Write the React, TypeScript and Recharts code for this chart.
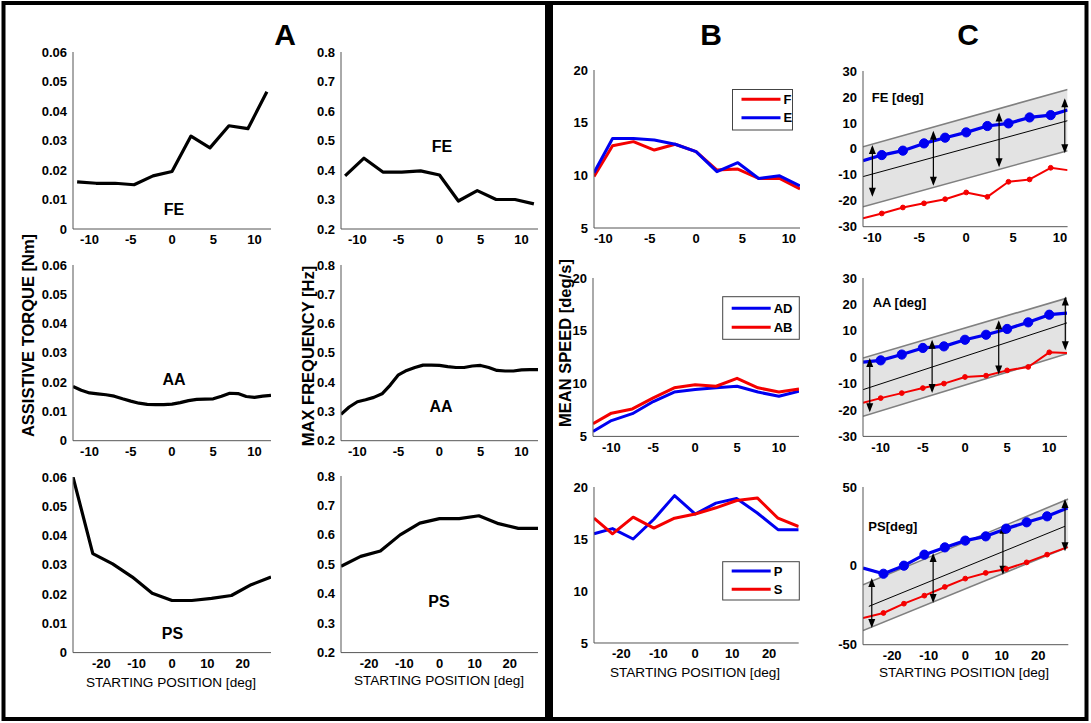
import React from 'react';
import { ComposedChart, Line, Area, XAxis, YAxis, ReferenceLine } from 'recharts';

const FONT = '"Liberation Sans", Arial, Helvetica, sans-serif';
const RED = '#f40000';
const BLUE = '#0000f0';

// ---------- Panel A ----------
const aFeX = [-11.5, -9.2, -6.9, -4.6, -2.3, 0, 2.3, 4.6, 6.9, 9.2, 11.5];
const aFeTorque = [0.016, 0.0155, 0.0155, 0.015, 0.018, 0.0195, 0.0315, 0.0275, 0.035, 0.034, 0.0465];
const aFeFreq = [0.38, 0.44, 0.393, 0.393, 0.397, 0.383, 0.295, 0.33, 0.3, 0.3, 0.285];

const aAaX = [-12, -11, -10, -9, -8, -7, -6, -5, -4, -3, -2, -1, 0, 1, 2, 3, 4, 5, 6, 7, 8, 9, 10, 11, 12];
const aAaTorque = [0.0185, 0.0172, 0.0163, 0.016, 0.0157, 0.0152, 0.0143, 0.0135, 0.0128, 0.0124, 0.0123, 0.0123, 0.0125, 0.013, 0.0137, 0.0141, 0.0142, 0.0143, 0.0152, 0.0162, 0.0161, 0.0151, 0.0148, 0.0152, 0.0155];
const aAaFreq = [0.29, 0.315, 0.333, 0.34, 0.348, 0.36, 0.39, 0.425, 0.44, 0.45, 0.458, 0.458, 0.457, 0.453, 0.45, 0.45, 0.455, 0.457, 0.45, 0.44, 0.438, 0.438, 0.442, 0.443, 0.443];

const aPsX = [-28, -22.4, -16.8, -11.2, -5.6, 0, 5.6, 11.2, 16.8, 22.4, 28];
const aPsTorque = [0.06, 0.0338, 0.0303, 0.0258, 0.0203, 0.0178, 0.0178, 0.0185, 0.0195, 0.0232, 0.0258];
const aPsFreq = [0.493, 0.527, 0.545, 0.6, 0.64, 0.655, 0.655, 0.665, 0.638, 0.622, 0.622];

// ---------- Panel B ----------
const bFeX = [-11, -9, -6.75, -4.5, -2.25, 0, 2.25, 4.5, 6.75, 9, 11.2];
const bF = [9.9, 12.8, 13.2, 12.4, 12.95, 12.25, 10.5, 10.6, 9.7, 9.7, 8.7];
const bE = [10.25, 13.5, 13.5, 13.35, 12.95, 12.25, 10.35, 11.2, 9.7, 9.95, 9.0];

const bAaX = [-12.2, -10, -7.5, -5, -2.5, 0, 2.5, 5, 7.5, 10, 12.4];
const bAD = [5.47, 6.5, 7.15, 8.3, 9.2, 9.45, 9.6, 9.75, 9.2, 8.8, 9.27];
const bAB = [6.2, 7.2, 7.6, 8.65, 9.6, 9.9, 9.75, 10.5, 9.6, 9.2, 9.5];

const bPsX = [-27.4, -22.4, -16.8, -11.2, -5.6, 0, 5.6, 11.2, 16.8, 22.4, 28];
const bP = [15.5, 16.0, 15.0, 16.9, 19.17, 17.4, 18.45, 18.9, 17.5, 15.9, 15.9];
const bS = [17.0, 15.5, 17.1, 16.05, 17.0, 17.4, 18.0, 18.7, 18.95, 17.0, 16.2];

// ---------- Panel C ----------
const cFeX = [-11, -9, -6.75, -4.5, -2.25, 0, 2.25, 4.5, 6.75, 9, 10.8];
const cFeBlue = [-4.6, -2.4, -0.7, 2.1, 4.3, 6.35, 8.8, 9.8, 12.1, 13.0, 15.0];
const cFeRed = [-26.8, -24.9, -22.6, -21, -19.4, -16.8, -18.5, -12.7, -11.8, -7.3, -8.2];
const cFeBandX = [-11, 10.8];
const cFeBandLo = [-22.3, -0.7];
const cFeBandMid = [-10.7, 10.85];
const cFeBandHi = [0.8, 22.9];
const cFeArrowX = [-10, -3.5, 3.5, 10.5];
const cFeArrowLo = [-18.5, -14.2, -7.1, -1.7];
const cFeArrowHi = [1.5, 7, 14, 19.5];

const cAaX = [-12.1, -10, -7.5, -5, -2.5, 0, 2.5, 5, 7.5, 10, 12.1];
const cAaBlue = [-1.9, -1.2, 1.0, 3.5, 4.1, 6.6, 8.5, 10.7, 13.2, 16.1, 16.7];
const cAaRed = [-17.3, -15.5, -13.6, -11.7, -10, -7.5, -7.0, -5.0, -3.7, 1.85, 1.6];
const cAaBandX = [-12.1, 12.1];
const cAaBandLo = [-22.4, 1.3];
const cAaBandMid = [-12.3, 13];
const cAaBandHi = [-0.3, 22.4];
const cAaArrowX = [-11.3, -3.9, 4, 11.9];
const cAaArrowLo = [-20.9, -13.6, -6.6, 2.6];
const cAaArrowHi = [-0.3, 6.6, 14, 23];

const cPsX = [-28, -22.4, -16.8, -11.2, -5.6, 0, 5.6, 11.2, 16.8, 22.4, 28];
const cPsBlue = [-1.4, -5.0, 0.1, 7.1, 11.7, 16.0, 18.7, 23.6, 27.6, 31.4, 36.7];
const cPsRed = [-33.1, -29.9, -24, -18.9, -13.4, -8.1, -4.5, -2.0, 2.2, 7.1, 11.9];
const cPsBandX = [-28, 28.2];
const cPsBandLo = [-41, 12];
const cPsBandHi = [-12, 42.4];
const cPsMidX = [-26.4, 27.3];
const cPsMidY = [-25.7, 25.1];
const cPsArrowX = [-25.6, -8.8, 10.3, 27.3];
const cPsArrowLo = [-39.4, -23.6, -5.6, 9.2];
const cPsArrowHi = [-7.7, 8.1, 26.1, 42.4];

// ---------- Ticks ----------
const xTicks12 = [-10, -5, 0, 5, 10];
const xTicks28 = [-20, -10, 0, 10, 20];
const torqueTicks = [0, 0.01, 0.02, 0.03, 0.04, 0.05, 0.06];
const freqTicks = [0.2, 0.3, 0.4, 0.5, 0.6, 0.7, 0.8];
const speedTicks = [5, 10, 15, 20];
const degTicks30 = [-30, -20, -10, 0, 10, 20, 30];
const degTicks50 = [-50, 0, 50];

const zip = (xs: number[], ys: number[]) => xs.map((x, i) => ({ x, y: ys[i] }));
const band = (xs: number[], lo: number[], hi: number[]) =>
  xs.map((x, i) => ({ x, range: [lo[i], hi[i]], lo: lo[i], hi: hi[i] }));

const tickStyle = { fill: '#000', fontSize: 13, fontWeight: 700, fontFamily: FONT };

const makeDot = (r: number, color: string, n: number) => (p: any) => {
  const k = `d-${p.index}`;
  if (p.index === 0 || p.index === n - 1 || p.cx == null) return <g key={k} />;
  return <circle key={k} cx={p.cx} cy={p.cy} r={r} fill={color} stroke={color} />;
};

const ArrowShape = (p: any) => {
  const x = p.x1;
  const yTop = Math.min(p.y1, p.y2);
  const yBot = Math.max(p.y1, p.y2);
  const hw = 3.5;
  const hl = 9;
  return (
    <g>
      <line x1={x} y1={yTop + 2} x2={x} y2={yBot - 2} stroke="#000" strokeWidth={1.2} />
      <polygon points={`${x},${yTop} ${x - hw},${yTop + hl} ${x + hw},${yTop + hl}`} fill="#000" />
      <polygon points={`${x},${yBot} ${x - hw},${yBot - hl} ${x + hw},${yBot - hl}`} fill="#000" />
    </g>
  );
};

type PlotProps = {
  box: number[];
  xDomain: number[];
  xTicks: number[];
  yDomain: number[];
  yTicks: number[];
  children?: React.ReactNode;
};

function Plot({ box, xDomain, xTicks, yDomain, yTicks, children }: PlotProps) {
  const [l, t, r, b] = box;
  const ML = 60, MT = 12, MR = 12, XH = 30;
  const w = r - l + ML + MR;
  const h = b - t + MT + XH;
  return (
    <div style={{ position: 'absolute', left: l - ML, top: t - MT, width: w, height: h }}>
      <ComposedChart width={w} height={h} margin={{ top: MT, right: MR, bottom: 0, left: 0 }}>
        <XAxis
          type="number"
          dataKey="x"
          domain={xDomain}
          ticks={xTicks}
          allowDataOverflow
          interval={0}
          height={XH}
          tickLine={false}
          tickSize={4}
          tickMargin={2}
          axisLine={{ stroke: '#555', strokeWidth: 1 }}
          tick={tickStyle}
        />
        <YAxis
          type="number"
          domain={yDomain}
          ticks={yTicks}
          allowDataOverflow
          interval={0}
          width={ML}
          tickLine={false}
          tickSize={4}
          tickMargin={2}
          axisLine={{ stroke: '#555', strokeWidth: 1 }}
          tick={tickStyle}
        />
        {children}
      </ComposedChart>
    </div>
  );
}

const blackLine = (xs: number[], ys: number[]) => (
  <Line
    data={zip(xs, ys)}
    dataKey="y"
    type="linear"
    stroke="#000"
    strokeWidth={3.2}
    strokeLinejoin="round"
    dot={false}
    isAnimationActive={false}
  />
);

const colLine = (xs: number[], ys: number[], color: string) => (
  <Line
    data={zip(xs, ys)}
    dataKey="y"
    type="linear"
    stroke={color}
    strokeWidth={3}
    strokeLinejoin="round"
    dot={false}
    isAnimationActive={false}
  />
);

function cSeries(
  xs: number[], blue: number[], red: number[],
  bx: number[], lo: number[], hi: number[],
  midX: number[], midY: number[],
  ax: number[], alo: number[], ahi: number[]
) {
  return [
    <Area key="band" data={band(bx, lo, hi)} dataKey="range" type="linear" fill="#e3e3e3" fillOpacity={1} stroke="none" isAnimationActive={false} />,
    <Line key="hi" data={band(bx, lo, hi)} dataKey="hi" type="linear" stroke="#808080" strokeWidth={1.6} dot={false} isAnimationActive={false} />,
    <Line key="lo" data={band(bx, lo, hi)} dataKey="lo" type="linear" stroke="#808080" strokeWidth={1.6} dot={false} isAnimationActive={false} />,
    <Line key="mid" data={zip(midX, midY)} dataKey="y" type="linear" stroke="#000" strokeWidth={1} dot={false} isAnimationActive={false} />,
    <Line key="blue" data={zip(xs, blue)} dataKey="y" type="linear" stroke={BLUE} strokeWidth={3.2} strokeLinejoin="round" dot={makeDot(4.6, BLUE, xs.length)} isAnimationActive={false} />,
    <Line key="red" data={zip(xs, red)} dataKey="y" type="linear" stroke={RED} strokeWidth={2} strokeLinejoin="round" dot={makeDot(2.4, RED, xs.length)} isAnimationActive={false} />,
    ...ax.map((x, i) => (
      <ReferenceLine key={`ar${i}`} segment={[{ x, y: alo[i] }, { x, y: ahi[i] }]} shape={ArrowShape} ifOverflow="visible" />
    )),
  ];
}

function Legend2({ x, y, w, h, items }: { x: number; y: number; w: number; h: number; items: { label: string; color: string; y: number }[] }) {
  return (
    <g>
      <rect x={x} y={y} width={w} height={h} fill="#fff" stroke="#444" strokeWidth={1} />
      {items.map((it) => (
        <g key={it.label}>
          <line x1={x + 9} x2={x + 48} y1={it.y} y2={it.y} stroke={it.color} strokeWidth={3} />
          <text x={x + 51} y={it.y + 4.6} fontSize={13} fontWeight={700} fontFamily={FONT} fill="#000">{it.label}</text>
        </g>
      ))}
    </g>
  );
}

export default function App() {
  const t16 = { fontSize: 16, fontWeight: 700, fontFamily: FONT, fill: '#000', textAnchor: 'middle' as const };
  const t13 = { fontSize: 13, fontWeight: 700, fontFamily: FONT, fill: '#000' };
  const xl = { fontSize: 13.6, fontFamily: FONT, fill: '#000', textAnchor: 'middle' as const };
  const yl = { fontSize: 16.5, fontWeight: 700, fontFamily: FONT, fill: '#000', textAnchor: 'middle' as const };
  return (
    <div style={{ position: 'fixed', left: 0, top: 0, width: 1091, height: 723, background: '#fff', overflow: 'hidden' }}>
      {/* Panel A - torque */}
      <Plot box={[73, 52, 271, 229]} xDomain={[-12, 12]} xTicks={xTicks12} yDomain={[0, 0.06]} yTicks={torqueTicks}>
        {blackLine(aFeX, aFeTorque)}
      </Plot>
      <Plot box={[73, 265, 271, 440.7]} xDomain={[-12, 12]} xTicks={xTicks12} yDomain={[0, 0.06]} yTicks={torqueTicks}>
        {blackLine(aAaX, aAaTorque)}
      </Plot>
      <Plot box={[73, 476.7, 271, 652.3]} xDomain={[-28, 28]} xTicks={xTicks28} yDomain={[0, 0.06]} yTicks={torqueTicks}>
        {blackLine(aPsX, aPsTorque)}
      </Plot>
      {/* Panel A - frequency */}
      <Plot box={[341, 52, 538, 229]} xDomain={[-12, 12]} xTicks={xTicks12} yDomain={[0.2, 0.8]} yTicks={freqTicks}>
        {blackLine(aFeX, aFeFreq)}
      </Plot>
      <Plot box={[341, 265, 538, 440.7]} xDomain={[-12, 12]} xTicks={xTicks12} yDomain={[0.2, 0.8]} yTicks={freqTicks}>
        {blackLine(aAaX, aAaFreq)}
      </Plot>
      <Plot box={[341, 475.7, 538, 652.3]} xDomain={[-28, 28]} xTicks={xTicks28} yDomain={[0.2, 0.8]} yTicks={freqTicks}>
        {blackLine(aPsX, aPsFreq)}
      </Plot>
      {/* Panel B */}
      <Plot box={[594, 70, 800, 228]} xDomain={[-11, 11.2]} xTicks={xTicks12} yDomain={[5, 20]} yTicks={speedTicks}>
        {colLine(bFeX, bF, RED)}
        {colLine(bFeX, bE, BLUE)}
      </Plot>
      <Plot box={[593.3, 278.3, 799.3, 436.7]} xDomain={[-12.2, 12.4]} xTicks={xTicks12} yDomain={[5, 20]} yTicks={speedTicks}>
        {colLine(bAaX, bAD, BLUE)}
        {colLine(bAaX, bAB, RED)}
      </Plot>
      <Plot box={[594.3, 487.3, 799, 643.3]} xDomain={[-27.4, 28]} xTicks={xTicks28} yDomain={[5, 20]} yTicks={speedTicks}>
        {colLine(bPsX, bP, BLUE)}
        {colLine(bPsX, bS, RED)}
      </Plot>
      {/* Panel C */}
      <Plot box={[862.7, 71, 1067.3, 226.7]} xDomain={[-11, 10.8]} xTicks={xTicks12} yDomain={[-30, 30]} yTicks={degTicks30}>
        {cSeries(cFeX, cFeBlue, cFeRed, cFeBandX, cFeBandLo, cFeBandHi, cFeBandX, cFeBandMid, cFeArrowX, cFeArrowLo, cFeArrowHi)}
      </Plot>
      <Plot box={[863.3, 278.3, 1067.3, 436.7]} xDomain={[-12.1, 12.1]} xTicks={xTicks12} yDomain={[-30, 30]} yTicks={degTicks30}>
        {cSeries(cAaX, cAaBlue, cAaRed, cAaBandX, cAaBandLo, cAaBandHi, cAaBandX, cAaBandMid, cAaArrowX, cAaArrowLo, cAaArrowHi)}
      </Plot>
      <Plot box={[862.7, 487.3, 1068, 645]} xDomain={[-28, 28.2]} xTicks={xTicks28} yDomain={[-50, 50]} yTicks={degTicks50}>
        {cSeries(cPsX, cPsBlue, cPsRed, cPsBandX, cPsBandLo, cPsBandHi, cPsMidX, cPsMidY, cPsArrowX, cPsArrowLo, cPsArrowHi)}
      </Plot>

      <svg width={1091} height={723} style={{ position: 'absolute', left: 0, top: 0, pointerEvents: 'none' }}>
        {/* borders */}
        <rect x={3.5} y={3} width={1083} height={716} fill="none" stroke="#000" strokeWidth={4} />
        <rect x={545} y={3} width={8} height={716} fill="#000" />

        {/* panel letters */}
        <text x={285} y={45} fontSize={30} fontWeight={700} fontFamily={FONT} textAnchor="middle">A</text>
        <text x={711} y={45} fontSize={30} fontWeight={700} fontFamily={FONT} textAnchor="middle">B</text>
        <text x={968} y={45} fontSize={30} fontWeight={700} fontFamily={FONT} textAnchor="middle">C</text>

        {/* subplot labels A */}
        <text x={174} y={214.7} {...t16}>FE</text>
        <text x={174} y={384.7} {...t16}>AA</text>
        <text x={172.5} y={638.7} {...t16}>PS</text>
        <text x={442} y={151.7} {...t16}>FE</text>
        <text x={441} y={412.4} {...t16}>AA</text>
        <text x={439} y={607.4} {...t16}>PS</text>

        {/* subplot labels C */}
        <text x={871.7} y={102} {...t13}>FE [deg]</text>
        <text x={872.7} y={307.4} {...t13}>AA [deg]</text>
        <text x={868.3} y={531.4} {...t13}>PS[deg]</text>

        {/* x-axis labels */}
        <text x={171} y={686.6} {...xl}>STARTING POSITION [deg]</text>
        <text x={439} y={685} {...xl}>STARTING POSITION [deg]</text>
        <text x={695} y={676.6} {...xl}>STARTING POSITION [deg]</text>
        <text x={964} y={676.6} {...xl}>STARTING POSITION [deg]</text>

        {/* y-axis labels */}
        <text x={34.1} y={335.5} transform="rotate(-90 34.1 335.5)" {...yl}>ASSISTIVE TORQUE [Nm]</text>
        <text x={314.1} y={356} transform="rotate(-90 314.1 356)" {...yl}>MAX FREQUENCY [Hz]</text>
        <text x={571.1} y={343} transform="rotate(-90 571.1 343)" {...yl}>MEAN SPEED [deg/s]</text>

        {/* legends B */}
        <Legend2 x={732.5} y={89.5} w={60} h={40.5} items={[{ label: 'F', color: RED, y: 99.3 }, { label: 'E', color: BLUE, y: 117.7 }]} />
        <Legend2 x={722.7} y={296.7} w={76.6} h={42.6} items={[{ label: 'AD', color: BLUE, y: 308.3 }, { label: 'AB', color: RED, y: 327.3 }]} />
        <Legend2 x={722.7} y={561.7} w={76.6} h={38.3} items={[{ label: 'P', color: BLUE, y: 571 }, { label: 'S', color: RED, y: 589.3 }]} />
      </svg>
    </div>
  );
}
